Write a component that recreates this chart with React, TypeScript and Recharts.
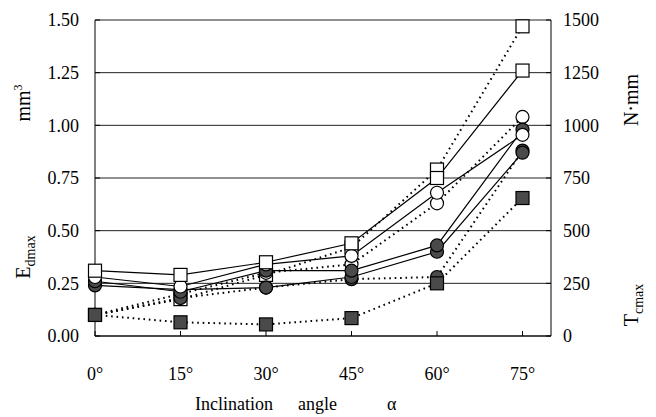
import { CartesianGrid, ComposedChart, Line, XAxis, YAxis } from 'recharts';

const ANGLES = [0, 15, 30, 45, 60, 75];

// E_dmax (mm3), left axis, solid lines
const eSquare = [0.31, 0.29, 0.35, 0.44, 0.75, 1.26];
const eCircle = [0.28, 0.235, 0.34, 0.38, 0.68, 0.955];
const eDark = [0.26, 0.21, 0.31, 0.31, 0.43, 0.98];
const eDark2 = [0.24, 0.22, 0.23, 0.28, 0.4, 0.87];

// T_cmax (N·mm), right axis, dotted lines
const tSquare = [100, 175, 290, 420, 790, 1470];
const tCircle = [100, 200, 300, 340, 630, 1040];
const tDark = [100, 180, 230, 270, 280, 880];
const tDarkSq = [100, 65, 55, 85, 250, 655];

const LEFT_TICKS = [0, 0.25, 0.5, 0.75, 1.0, 1.25, 1.5];
const RIGHT_TICKS = [0, 250, 500, 750, 1000, 1250, 1500];

const data = ANGLES.map((a, i) => ({
  angle: a,
  eSquare: eSquare[i],
  eCircle: eCircle[i],
  eDark: eDark[i],
  eDark2: eDark2[i],
  tSquare: tSquare[i],
  tCircle: tCircle[i],
  tDark: tDark[i],
  tDarkSq: tDarkSq[i],
}));

const FONT = 'Liberation Serif, Times New Roman, DejaVu Serif, serif';
const DARK = '#4a4a4a';

function makeDot(shape: 'square' | 'circle', fill: string) {
  return (props: any) => {
    const { cx, cy, index } = props;
    if (cx == null || cy == null) return null;
    if (shape === 'square') {
      return (
        <rect key={index} x={cx - 6.5} y={cy - 6.5} width={13} height={13} fill={fill} stroke="#000" strokeWidth={1.2} />
      );
    }
    return <circle key={index} cx={cx} cy={cy} r={6.5} fill={fill} stroke="#000" strokeWidth={1.2} />;
  };
}

const tickStyle = { fontSize: 18, fill: '#000', style: { fontFamily: FONT } };
const dotted = { stroke: '#000', strokeWidth: 2, strokeDasharray: '1.6 3.8' };

export default function App() {
  return (
    <div style={{ width: 640, height: 409, position: 'relative', fontFamily: FONT }}>
      <ComposedChart
        width={640}
        height={409}
        data={data}
        margin={{ top: 12, right: 0, left: 0, bottom: 0 }}
        style={{ fontFamily: FONT }}
      >
        <CartesianGrid horizontal vertical={false} stroke="#222" strokeWidth={1} yAxisId="left" />
        <XAxis
          dataKey="angle"
          type="number"
          domain={[0, 80]}
          ticks={ANGLES}
          tickFormatter={(v) => `${v}°`}
          height={81}
          tickSize={-5}
          tickMargin={36}
          stroke="#000"
          tick={tickStyle}
        />
        <YAxis
          yAxisId="left"
          domain={[0, 1.5]}
          ticks={LEFT_TICKS}
          tickFormatter={(v) => v.toFixed(2)}
          width={87}
          tickSize={-5}
          tickMargin={21}
          stroke="#000"
          tick={tickStyle}
        />
        <YAxis
          yAxisId="right"
          orientation="right"
          domain={[0, 1500]}
          ticks={RIGHT_TICKS}
          width={97}
          tickSize={-5}
          tickMargin={17}
          stroke="#000"
          tick={{ ...tickStyle, textAnchor: 'start' }}
        />

        <Line yAxisId="right" dataKey="tSquare" {...dotted} dot={makeDot('square', '#fff')} isAnimationActive={false} />
        <Line yAxisId="right" dataKey="tCircle" {...dotted} dot={makeDot('circle', '#fff')} isAnimationActive={false} />
        <Line yAxisId="right" dataKey="tDark" {...dotted} dot={makeDot('circle', DARK)} isAnimationActive={false} />
        <Line yAxisId="right" dataKey="tDarkSq" {...dotted} dot={makeDot('square', DARK)} isAnimationActive={false} />

        <Line yAxisId="left" dataKey="eDark2" stroke="#000" strokeWidth={1.2} dot={makeDot('circle', DARK)} isAnimationActive={false} />
        <Line yAxisId="left" dataKey="eDark" stroke="#000" strokeWidth={1.2} dot={makeDot('circle', DARK)} isAnimationActive={false} />
        <Line yAxisId="left" dataKey="eCircle" stroke="#000" strokeWidth={1.2} dot={makeDot('circle', '#fff')} isAnimationActive={false} />
        <Line yAxisId="left" dataKey="eSquare" stroke="#000" strokeWidth={1.2} dot={makeDot('square', '#fff')} isAnimationActive={false} />

        <g style={{ fontFamily: FONT }} fill="#000">
          <text transform="translate(22,95) rotate(-90)" textAnchor="middle" fontSize={20}>
            mm<tspan dy={-8} fontSize={12}>3</tspan>
          </text>
          <text transform="translate(22,249) rotate(-90)" textAnchor="middle" fontSize={20}>
            E<tspan dy={5} fontSize={14}>dmax</tspan>
          </text>
          <text transform="translate(630,92) rotate(-90)" textAnchor="middle" fontSize={20}>
            N·mm
          </text>
          <text transform="translate(630,297) rotate(-90)" textAnchor="middle" fontSize={20}>
            T<tspan dy={5} fontSize={14}>cmax</tspan>
          </text>
          <text x={187} y={402} fontSize={18}>Inclination</text>
          <text x={290} y={402} fontSize={18}>angle</text>
          <text x={379} y={402} fontSize={18}>α</text>
        </g>
      </ComposedChart>
    </div>
  );
}
